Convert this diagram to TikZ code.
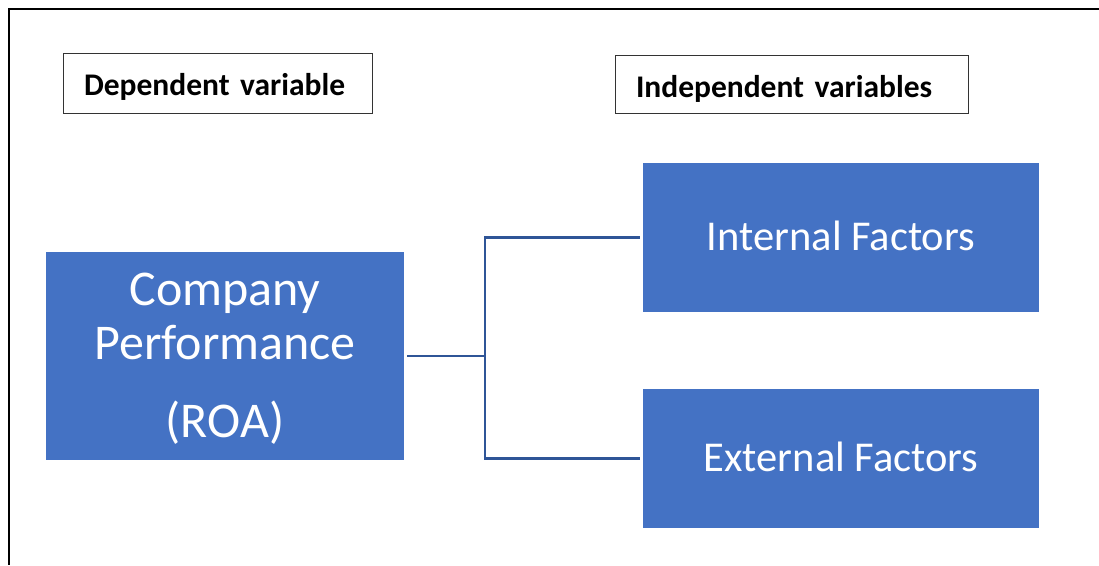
\documentclass[tikz,border=0pt]{standalone}
\usepackage{fontspec}
\setmainfont{Carlito}
\usepackage{xcolor}
\usetikzlibrary{positioning}
\definecolor{cboite}{RGB}{68,114,196}
\definecolor{clien}{RGB}{47,85,151}

\begin{document}
\begin{tikzpicture}[x=1pt, y=-1pt,
  boite/.style={fill=cboite, text=white, inner sep=0pt, align=center,
    font=\fontsize{42.5}{54}\selectfont},
  etiq/.style={draw=black!80, line width=1pt, inner xsep=21pt, inner ysep=0pt,
    align=left, font=\bfseries\fontsize{31.5}{36}\selectfont},
  lien/.style={draw=clien, line width=2.2pt}]
\useasboundingbox (0,0) rectangle (1099,565);
% cadre
\draw[line width=2.2pt] (1099,9) -- (9,9) -- (9,565);
% etiquettes
\node[etiq, minimum height=60pt, text width=267pt, text height=30pt] (dep) at (217.5,83) {Dependent variable};
\node[etiq, minimum height=58pt, text width=311pt, text height=32pt] (indep) at (791.5,84) {Independent variables};
% boites
\node[boite, minimum width=358pt, minimum height=208pt,
  font=\fontsize{50}{54}\selectfont] (comp) at (225,356)
  {\rule{0pt}{38pt}Company\\Performance\\[24pt](ROA)};
\node[boite, minimum width=396pt, minimum height=149pt, text depth=4pt] (inter) at (841,237.5) {Internal Factors};
\node[boite, minimum width=396pt, minimum height=139pt, text depth=4pt] (exter) at (841,458.5) {External Factors};
% liens
\coordinate (fork) at (485,356);
\draw[lien] ([xshift=3pt]comp.east) -- (fork);
\draw[lien] (fork) |- ([xshift=-3pt]inter.west);
\draw[lien] (fork) |- ([xshift=-3pt]exter.west);
\end{tikzpicture}
\end{document}
